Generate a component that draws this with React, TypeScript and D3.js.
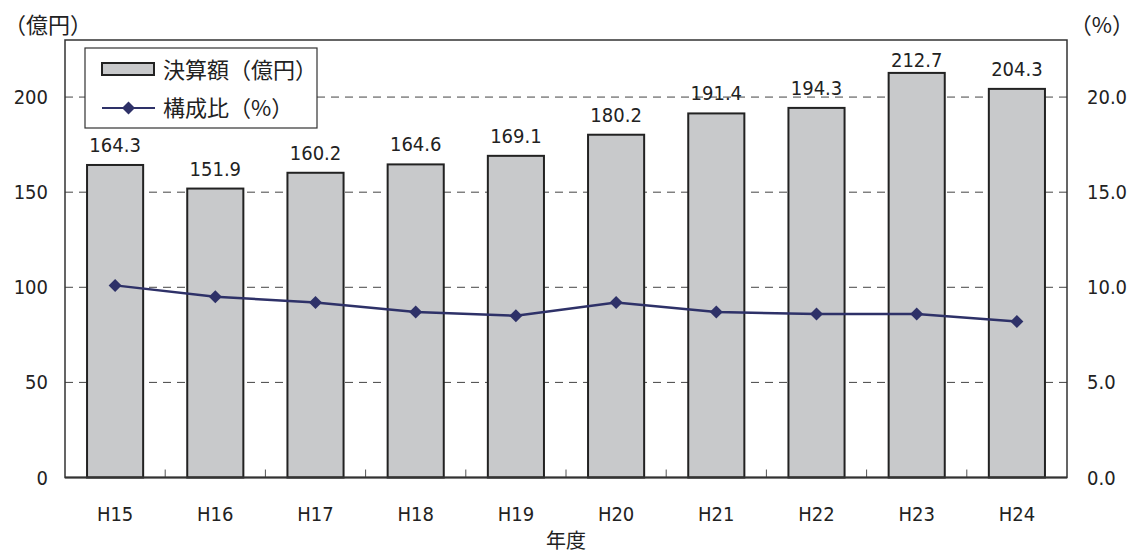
import React from "react";
import * as d3 from "d3";

const categories = ["H15", "H16", "H17", "H18", "H19", "H20", "H21", "H22", "H23", "H24"];
const amounts = [164.3, 151.9, 160.2, 164.6, 169.1, 180.2, 191.4, 194.3, 212.7, 204.3];
const ratios = [10.1, 9.5, 9.2, 8.7, 8.5, 9.2, 8.7, 8.6, 8.6, 8.2];
const leftTicks = [0, 50, 100, 150, 200];
const rightTicks = [0, 5, 10, 15, 20];

const W = 1134, H = 556;
const L = 65, R = 1067, T = 40, B = 477.5;
const font = "'DejaVu Sans Condensed', 'Liberation Sans Narrow', sans-serif";
const jfont = "'Noto Sans CJK JP', sans-serif";

export default function App() {
  const x = d3.scaleBand<string>().domain(categories).range([L, R]).paddingInner(0.44).paddingOuter(0.22);
  const band = d3.scaleBand<string>().domain(categories).range([L, R]);
  const y = d3.scaleLinear().domain([0, 230]).range([B, T]);
  const y2 = d3.scaleLinear().domain([0, 23]).range([B, T]);
  const line = d3.line<number>().x((_, i) => band(categories[i])! + band.bandwidth() / 2).y(d => y2(d));
  const lineColor = "#2e3168";
  const diamond = (cx: number, cy: number, s = 6.5) => `M${cx},${cy - s}L${cx + s},${cy}L${cx},${cy + s}L${cx - s},${cy}Z`;

  return (
    <svg width={W} height={H} style={{ position: "absolute", left: 0, top: 0, background: "#fff" }}>
      {leftTicks.filter(t => t > 0).map(t => (
        <line key={t} x1={L} x2={R} y1={y(t)} y2={y(t)} stroke="#444" strokeWidth={1} strokeDasharray="8,6" />
      ))}
      {amounts.map((v, i) => (
        <rect key={i} x={x(categories[i])} y={y(v)} width={x.bandwidth()} height={B - y(v)} fill="#c8c9cb" stroke="#222" strokeWidth={2} />
      ))}
      {amounts.map((v, i) => (
        <text key={i} x={x(categories[i])! + x.bandwidth() / 2} y={Math.max(y(v) - 13, 67)} textAnchor="middle" fontFamily={font} fontSize={20} fill="#222">{v.toFixed(1)}</text>
      ))}
      <rect x={L} y={T} width={R - L} height={B - T} fill="none" stroke="#333" strokeWidth={1.5} />
      {categories.slice(1).map(c => (
        <line key={c} x1={band(c)} x2={band(c)} y1={B} y2={B - 8} stroke="#555" strokeWidth={1} />
      ))}
      <line x1={L} x2={R} y1={B} y2={B} stroke="#333" strokeWidth={2} />
      <path d={line(ratios)!} fill="none" stroke={lineColor} strokeWidth={2.5} />
      {ratios.map((v, i) => (
        <path key={i} d={diamond(band(categories[i])! + band.bandwidth() / 2, y2(v))} fill={lineColor} />
      ))}
      {leftTicks.map(t => (
        <text key={t} x={48} y={y(t) + 7} textAnchor="end" fontFamily={font} fontSize={20} fill="#222">{t}</text>
      ))}
      {rightTicks.map(t => (
        <text key={t} x={1087} y={y2(t) + 7} textAnchor="start" fontFamily={font} fontSize={20} fill="#222">{t.toFixed(1)}</text>
      ))}
      {categories.map(c => (
        <text key={c} x={band(c)! + band.bandwidth() / 2} y={521} textAnchor="middle" fontFamily={font} fontSize={20} fill="#222">{c}</text>
      ))}
      <text x={566} y={548} textAnchor="middle" fontFamily={jfont} fontSize={20} fill="#222">年度</text>
      <text x={4} y={33} fontFamily={jfont} fontSize={22} fill="#222">（億円）</text>
      <text x={1134} y={33} textAnchor="end" fontFamily={jfont} fontSize={22} fill="#222">（%）</text>
      <rect x={85} y={48} width={232} height={80} fill="#fff" stroke="#333" strokeWidth={1.2} />
      <rect x={102} y={63} width={52} height={12} fill="#c8c9cb" stroke="#222" strokeWidth={2} />
      <text x={163} y={78} fontFamily={jfont} fontSize={22} fill="#222">決算額（億円）</text>
      <line x1={102} x2={155} y1={108} y2={108} stroke={lineColor} strokeWidth={2} />
      <path d={diamond(128.5, 108)} fill={lineColor} />
      <text x={163} y={116} fontFamily={jfont} fontSize={22} fill="#222">構成比（%）</text>
    </svg>
  );
}
